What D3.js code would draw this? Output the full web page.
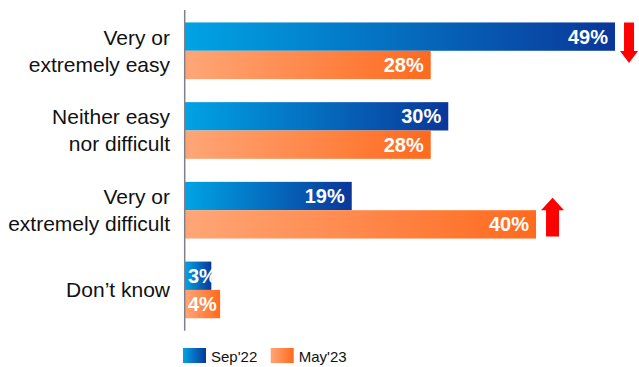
<!DOCTYPE html>
<html>
<head>
<meta charset="utf-8">
<script src="https://cdn.jsdelivr.net/npm/d3@7"></script>
<style>
  html, body { margin: 0; padding: 0; background: #fff; }
  svg { display: block; font-family: "Liberation Sans", Arial, sans-serif; }
</style>
</head>
<body>
<svg id="chart" width="639" height="367"></svg>
<script>
// Ease of the task, share of respondents by survey wave
const categories = ["Very or\nextremely easy", "Neither easy\nnor difficult", "Very or\nextremely difficult", "Don\u2019t know"];
const seriesNames = ["Sep'22", "May'23"];
const sep22 = [49, 30, 19, 3];
const may23 = [28, 28, 40, 4];
// Significant shifts between waves: category index, which wave's bar the arrow sits beside, direction
const shifts = [
  { cat: 0, wave: 0, dir: "down" },
  { cat: 2, wave: 1, dir: "up" }
];

const series = [sep22, may23];
const gradients = [
  ["#00a3e4", "#0a3799"],
  ["#ffa677", "#ff6a1e"]
];

const svg = d3.select("#chart");
const defs = svg.append("defs");
gradients.forEach((g, i) => {
  const lg = defs.append("linearGradient")
    .attr("id", "grad" + i)
    .attr("x1", "0%").attr("x2", "100%").attr("y1", "0%").attr("y2", "0%");
  lg.append("stop").attr("offset", "0%").attr("stop-color", g[0]);
  lg.append("stop").attr("offset", "100%").attr("stop-color", g[1]);
});

const x = d3.scaleLinear().domain([0, 50]).range([185, 185 + 438.8]);
const y = d3.scaleBand().domain(d3.range(categories.length)).range([10, 330.7])
  .paddingInner(0.289).paddingOuter(0.156);
const yInner = d3.scaleBand().domain(d3.range(series.length)).range([0, y.bandwidth()]);

const rows = [];
categories.forEach((c, ci) => {
  series.forEach((s, si) => rows.push({ ci, si, v: s[ci] }));
});

const bars = svg.append("g");
bars.selectAll("rect").data(rows).join("rect")
  .attr("x", x(0))
  .attr("y", d => y(d.ci) + yInner(d.si))
  .attr("width", d => x(d.v) - x(0))
  .attr("height", yInner.bandwidth())
  .attr("fill", d => `url(#grad${d.si})`);

// Value labels, white bold inside the bar end
const valFont = 20;
bars.selectAll("text").data(rows).join("text")
  .attr("fill", "#fff")
  .attr("font-weight", "bold")
  .attr("font-size", valFont)
  .attr("y", d => y(d.ci) + yInner(d.si) + yInner.bandwidth() / 2 + 7)
  .each(function (d) {
    const t = d3.select(this).text(d.v + "%");
    const w = this.getComputedTextLength();
    const endX = x(d.v) - 7;
    if (endX - w < x(0) + 3) {
      t.attr("x", x(0) + 3).attr("text-anchor", "start");
    } else {
      t.attr("x", endX).attr("text-anchor", "end");
    }
  });

// Category axis line
svg.append("line")
  .attr("x1", 184.7).attr("x2", 184.7)
  .attr("y1", y.range()[0]).attr("y2", y.range()[1])
  .attr("stroke", "#80808a").attr("stroke-width", 1.5);

// Category labels
const lineH = 27;
const labels = svg.append("g");
categories.forEach((c, ci) => {
  const lines = c.split("\n");
  const cy = y(ci) + y.bandwidth() / 2;
  const t = labels.append("text")
    .attr("text-anchor", "end")
    .attr("font-size", 21)
    .attr("fill", "#111");
  lines.forEach((ln, li) => {
    t.append("tspan")
      .attr("x", 170)
      .attr("y", cy + (li - (lines.length - 1) / 2) * lineH + 7.5)
      .text(ln);
  });
});

// Change arrows
function arrowPath(cx, top, bottom, shaftW, headW, headH, dir) {
  const s = shaftW / 2, h = headW / 2;
  if (dir === "down") {
    const hb = bottom - headH;
    return `M${cx - s},${top}L${cx + s},${top}L${cx + s},${hb}L${cx + h},${hb}L${cx},${bottom}L${cx - h},${hb}L${cx - s},${hb}Z`;
  }
  const ht = top + headH;
  return `M${cx - s},${bottom}L${cx + s},${bottom}L${cx + s},${ht}L${cx + h},${ht}L${cx},${top}L${cx - h},${ht}L${cx - s},${ht}Z`;
}
shifts.forEach(a => {
  const v = series[a.wave][a.cat];
  const g0 = y(a.cat), g1 = y(a.cat) + y.bandwidth();
  let p;
  if (a.dir === "down") {
    p = arrowPath(x(v) + 14, g0, g0 + 40.5, 10, 18, 12, "down");
  } else {
    p = arrowPath(x(v) + 16.5, g0 + 16, g1 - 2, 13, 23, 12.5, "up");
  }
  svg.append("path").attr("d", p).attr("fill", "#ff0000");
});

// Legend
const legend = svg.append("g");
const legendX = [183, 270.7];
seriesNames.forEach((n, i) => {
  legend.append("rect")
    .attr("x", legendX[i]).attr("y", 348)
    .attr("width", 23).attr("height", 15)
    .attr("fill", `url(#grad${i})`);
  legend.append("text")
    .attr("x", legendX[i] + 28).attr("y", 362)
    .attr("font-size", 15)
    .attr("fill", "#111")
    .text(n);
});
</script>
</body>
</html>
